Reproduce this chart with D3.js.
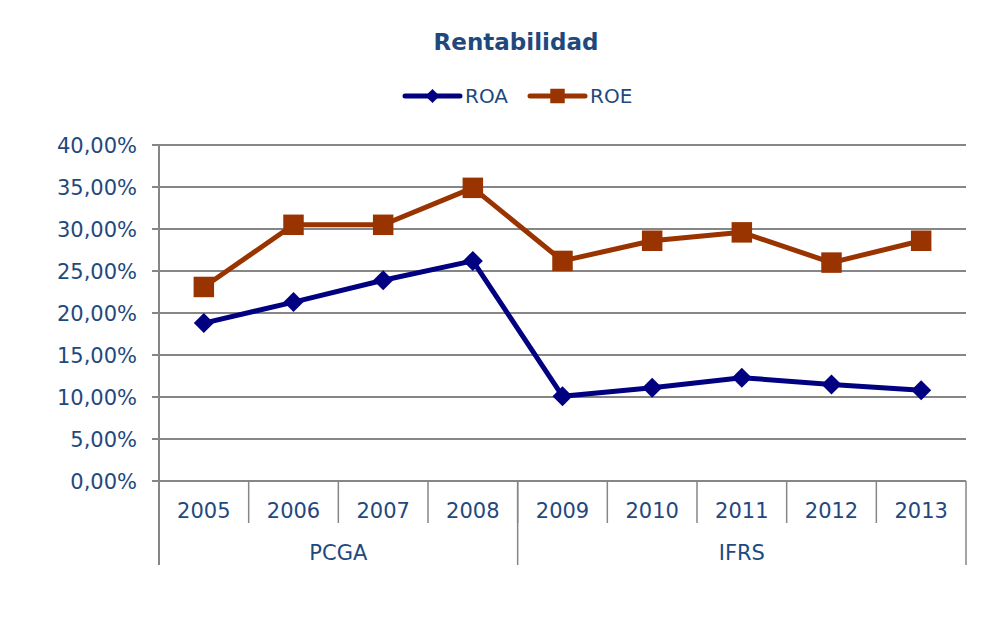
<!DOCTYPE html>
<html>
<head>
<meta charset="utf-8">
<script src="https://cdn.jsdelivr.net/npm/d3@7"></script>
<style>
  body { margin: 0; background: #fff; }
  text { font-family: "DejaVu Sans", Verdana, sans-serif; fill: #1f497d; }
</style>
</head>
<body>
<svg id="chart"></svg>
<script>
const years = ["2005", "2006", "2007", "2008", "2009", "2010", "2011", "2012", "2013"]
const groups = [
  { label: "PCGA", from: "2005", to: "2008" },
  { label: "IFRS", from: "2009", to: "2013" }
]
const roa = [18.8, 21.3, 23.9, 26.2, 10.1, 11.1, 12.3, 11.5, 10.8]
const roe = [23.1, 30.5, 30.5, 34.9, 26.2, 28.6, 29.6, 26.0, 28.6]
const yTicks = [0, 5, 10, 15, 20, 25, 30, 35, 40]

const width = 1002, height = 617
const margin = { top: 145, right: 36, bottom: 136, left: 159 }

const svg = d3.select('#chart')
  .attr('width', width)
  .attr('height', height)

const x = d3.scaleBand()
  .domain(years)
  .range([margin.left, width - margin.right])
  .padding(0)

const y = d3.scaleLinear()
  .domain([0, 40])
  .range([height - margin.bottom, margin.top])

const grey = '#868686'
const fmt = d => d.toFixed(2).replace('.', ',') + '%'

// gridlines + y labels
const yAxis = svg.append('g')
yAxis.selectAll('line')
  .data(yTicks)
  .enter().append('line')
  .attr('x1', margin.left - 7)
  .attr('x2', width - margin.right)
  .attr('y1', d => y(d))
  .attr('y2', d => y(d))
  .style('stroke', grey)
  .attr('stroke-width', 2)

yAxis.selectAll('text')
  .data(yTicks)
  .enter().append('text')
  .attr('x', margin.left - 22)
  .attr('y', d => y(d))
  .attr('dy', '.36em')
  .attr('text-anchor', 'end')
  .style('font-size', '21px')
  .text(fmt)

// vertical axis line
const axisBottom = y(0)
svg.append('line')
  .attr('x1', margin.left).attr('x2', margin.left)
  .attr('y1', margin.top).attr('y2', axisBottom + 84)
  .style('stroke', grey).attr('stroke-width', 2)

// year separators
svg.append('g').selectAll('line')
  .data(years.slice(1))
  .enter().append('line')
  .attr('x1', d => x(d)).attr('x2', d => x(d))
  .attr('y1', axisBottom).attr('y2', axisBottom + 42)
  .style('stroke', grey).attr('stroke-width', 1.5)

// group separators
svg.append('g').selectAll('line')
  .data(groups)
  .enter().append('line')
  .attr('x1', d => x(d.to) + x.bandwidth()).attr('x2', d => x(d.to) + x.bandwidth())
  .attr('y1', axisBottom).attr('y2', axisBottom + 84)
  .style('stroke', grey).attr('stroke-width', 1.5)

svg.append('g').selectAll('text')
  .data(years)
  .enter().append('text')
  .attr('x', d => x(d) + x.bandwidth() / 2)
  .attr('y', axisBottom + 37)
  .attr('text-anchor', 'middle')
  .style('font-size', '21px')
  .text(d => d)

svg.append('g').selectAll('text')
  .data(groups)
  .enter().append('text')
  .attr('x', d => (x(d.from) + x(d.to) + x.bandwidth()) / 2)
  .attr('y', axisBottom + 79)
  .attr('text-anchor', 'middle')
  .style('font-size', '21px')
  .text(d => d.label)

// series (diamond = square turned 45deg)
const series = [
  { name: 'ROA', values: roa, color: '#000080', size: 200, rotate: 45 },
  { name: 'ROE', values: roe, color: '#993300', size: 420, rotate: 0 }
]

const line = d3.line()
  .x((d, i) => x(years[i]) + x.bandwidth() / 2)
  .y(d => y(d))

series.forEach(s => {
  svg.append('path')
    .datum(s.values)
    .attr('d', line)
    .attr('fill', 'none')
    .style('stroke', s.color)
    .attr('stroke-width', 5)
    .attr('stroke-linejoin', 'round')

  svg.append('g').selectAll('path')
    .data(s.values)
    .enter().append('path')
    .attr('d', d3.symbol().type(d3.symbolSquare).size(s.size))
    .attr('transform', (d, i) => 'translate(' + (x(years[i]) + x.bandwidth() / 2) + ',' + y(d) + ') rotate(' + s.rotate + ')')
    .attr('fill', s.color)
})

// legend
const legend = svg.append('g').attr('transform', 'translate(405,96)')
series.forEach((s, i) => {
  const g = legend.append('g').attr('transform', 'translate(' + (i * 125) + ',0)')
  g.append('line')
    .attr('x1', 0).attr('x2', 55)
    .style('stroke', s.color).attr('stroke-width', 5)
    .attr('stroke-linecap', 'round')
  g.append('path')
    .attr('d', d3.symbol().type(d3.symbolSquare).size(s.size * 0.5))
    .attr('transform', 'translate(27.5,0) rotate(' + s.rotate + ')')
    .attr('fill', s.color)
  g.append('text')
    .attr('x', 60)
    .attr('dy', '.36em')
    .style('font-size', '20px')
    .text(s.name)
})

svg.append('text')
  .attr('x', 516)
  .attr('y', 50)
  .attr('text-anchor', 'middle')
  .style('font-size', '23px')
  .style('font-weight', 'bold')
  .text('Rentabilidad')
</script>
</body>
</html>
